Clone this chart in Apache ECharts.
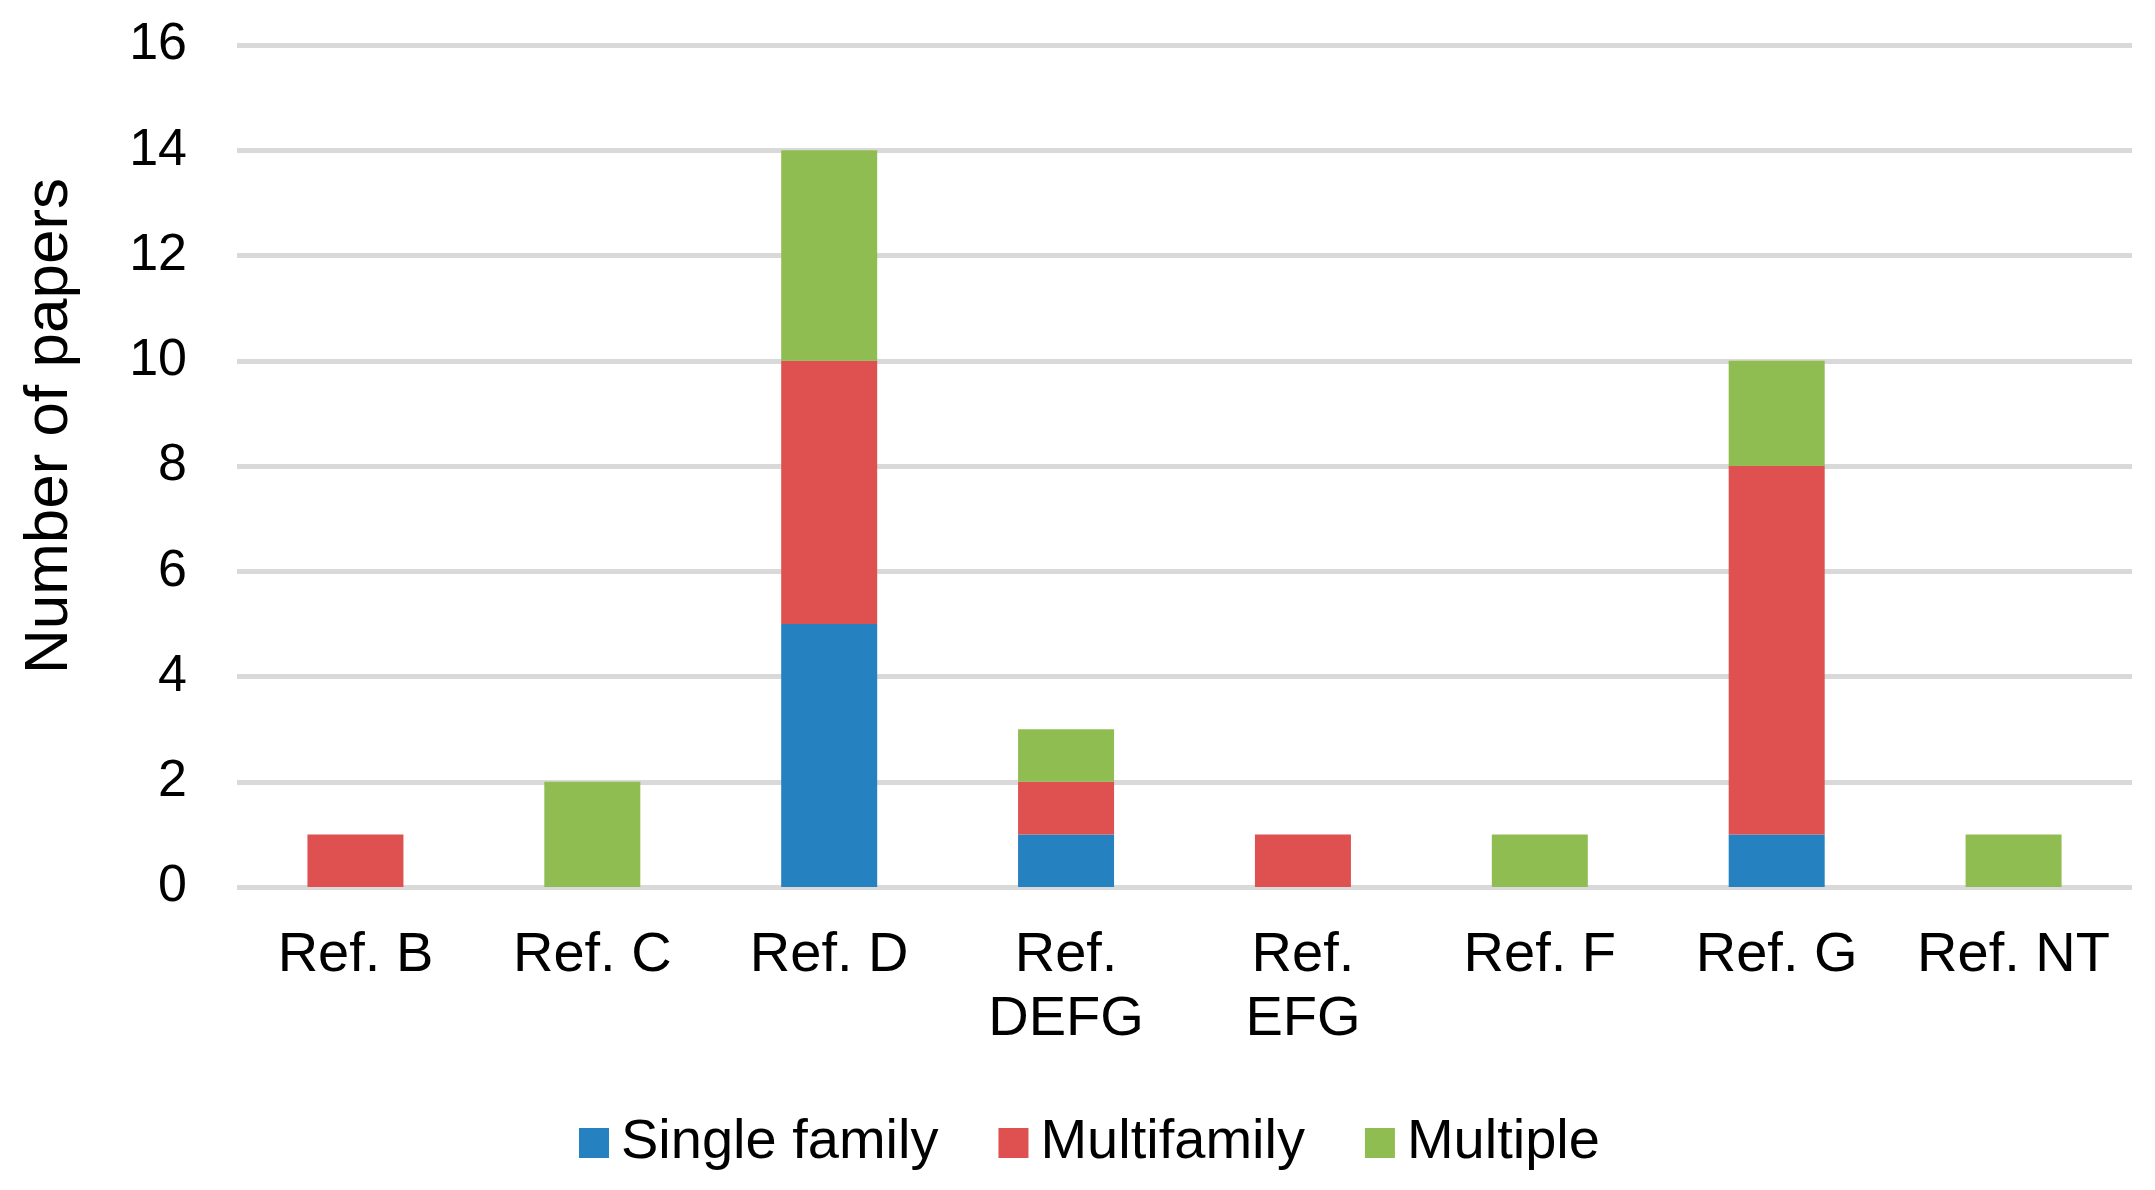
<!DOCTYPE html>
<html>
<head>
<meta charset="utf-8">
<script src="https://cdn.jsdelivr.net/npm/echarts@6/dist/echarts.min.js"></script>
<style>
html,body{margin:0;padding:0;background:#fff;}
#main{width:2155px;height:1190px;}
</style>
</head>
<body>
<div id="main"></div>
<script>
var categories = ['Ref. B', 'Ref. C', 'Ref. D', 'Ref.\nDEFG', 'Ref.\nEFG', 'Ref. F', 'Ref. G', 'Ref. NT'];
var seriesNames = ['Single family', 'Multifamily', 'Multiple'];
var singleFamily = [0, 0, 5, 1, 0, 0, 1, 0];
var multifamily = [1, 0, 5, 1, 1, 0, 7, 0];
var multiple = [0, 2, 4, 1, 0, 1, 2, 1];
var yAxisTitle = 'Number of papers';
var colors = ['#2581C0', '#DE5150', '#8FBD52'];

var FONT = '"Liberation Sans", Arial, sans-serif';
var chart = echarts.init(document.getElementById('main'), null, {renderer: 'canvas'});

function mkSeries(name, data, color) {
  return {
    name: name,
    type: 'bar',
    stack: 'total',
    data: data,
    barWidth: 96,
    itemStyle: {color: color},
    emphasis: {disabled: true}
  };
}

chart.setOption({
  animation: false,
  backgroundColor: '#ffffff',
  textStyle: {fontFamily: FONT},
  grid: {left: 237, right: 23, top: 45, bottom: 303, containLabel: false},
  legend: {
    data: seriesNames,
    left: 574,
    top: 1110,
    itemWidth: 30,
    itemHeight: 30,
    itemGap: 60,
    icon: 'rect',
    textStyle: {fontSize: 56, color: '#000', fontFamily: FONT, padding: [0, 0, 0, 7], lineHeight: 56}
  },
  xAxis: {
    type: 'category',
    data: categories,
    axisLine: {show: false},
    axisTick: {show: false},
    axisLabel: {
      fontSize: 56, color: '#000', fontFamily: FONT, lineHeight: 64, margin: 37, interval: 0
    }
  },
  yAxis: {
    type: 'value',
    min: 0, max: 16, interval: 2,
    axisLine: {show: false},
    axisTick: {show: false},
    axisLabel: {fontSize: 52, color: '#000', fontFamily: FONT, margin: 50},
    splitLine: {show: true, lineStyle: {color: '#D9D9D9', width: 5}}
  },
  graphic: [{
    type: 'text',
    x: 50,
    y: 426,
    rotation: Math.PI / 2,
    style: {
      text: yAxisTitle,
      font: '62px ' + FONT,
      fill: '#000',
      textAlign: 'center',
      textVerticalAlign: 'middle'
    }
  }],
  series: [
    mkSeries(seriesNames[0], singleFamily, colors[0]),
    mkSeries(seriesNames[1], multifamily, colors[1]),
    mkSeries(seriesNames[2], multiple, colors[2])
  ]
});
</script>
</body>
</html>
